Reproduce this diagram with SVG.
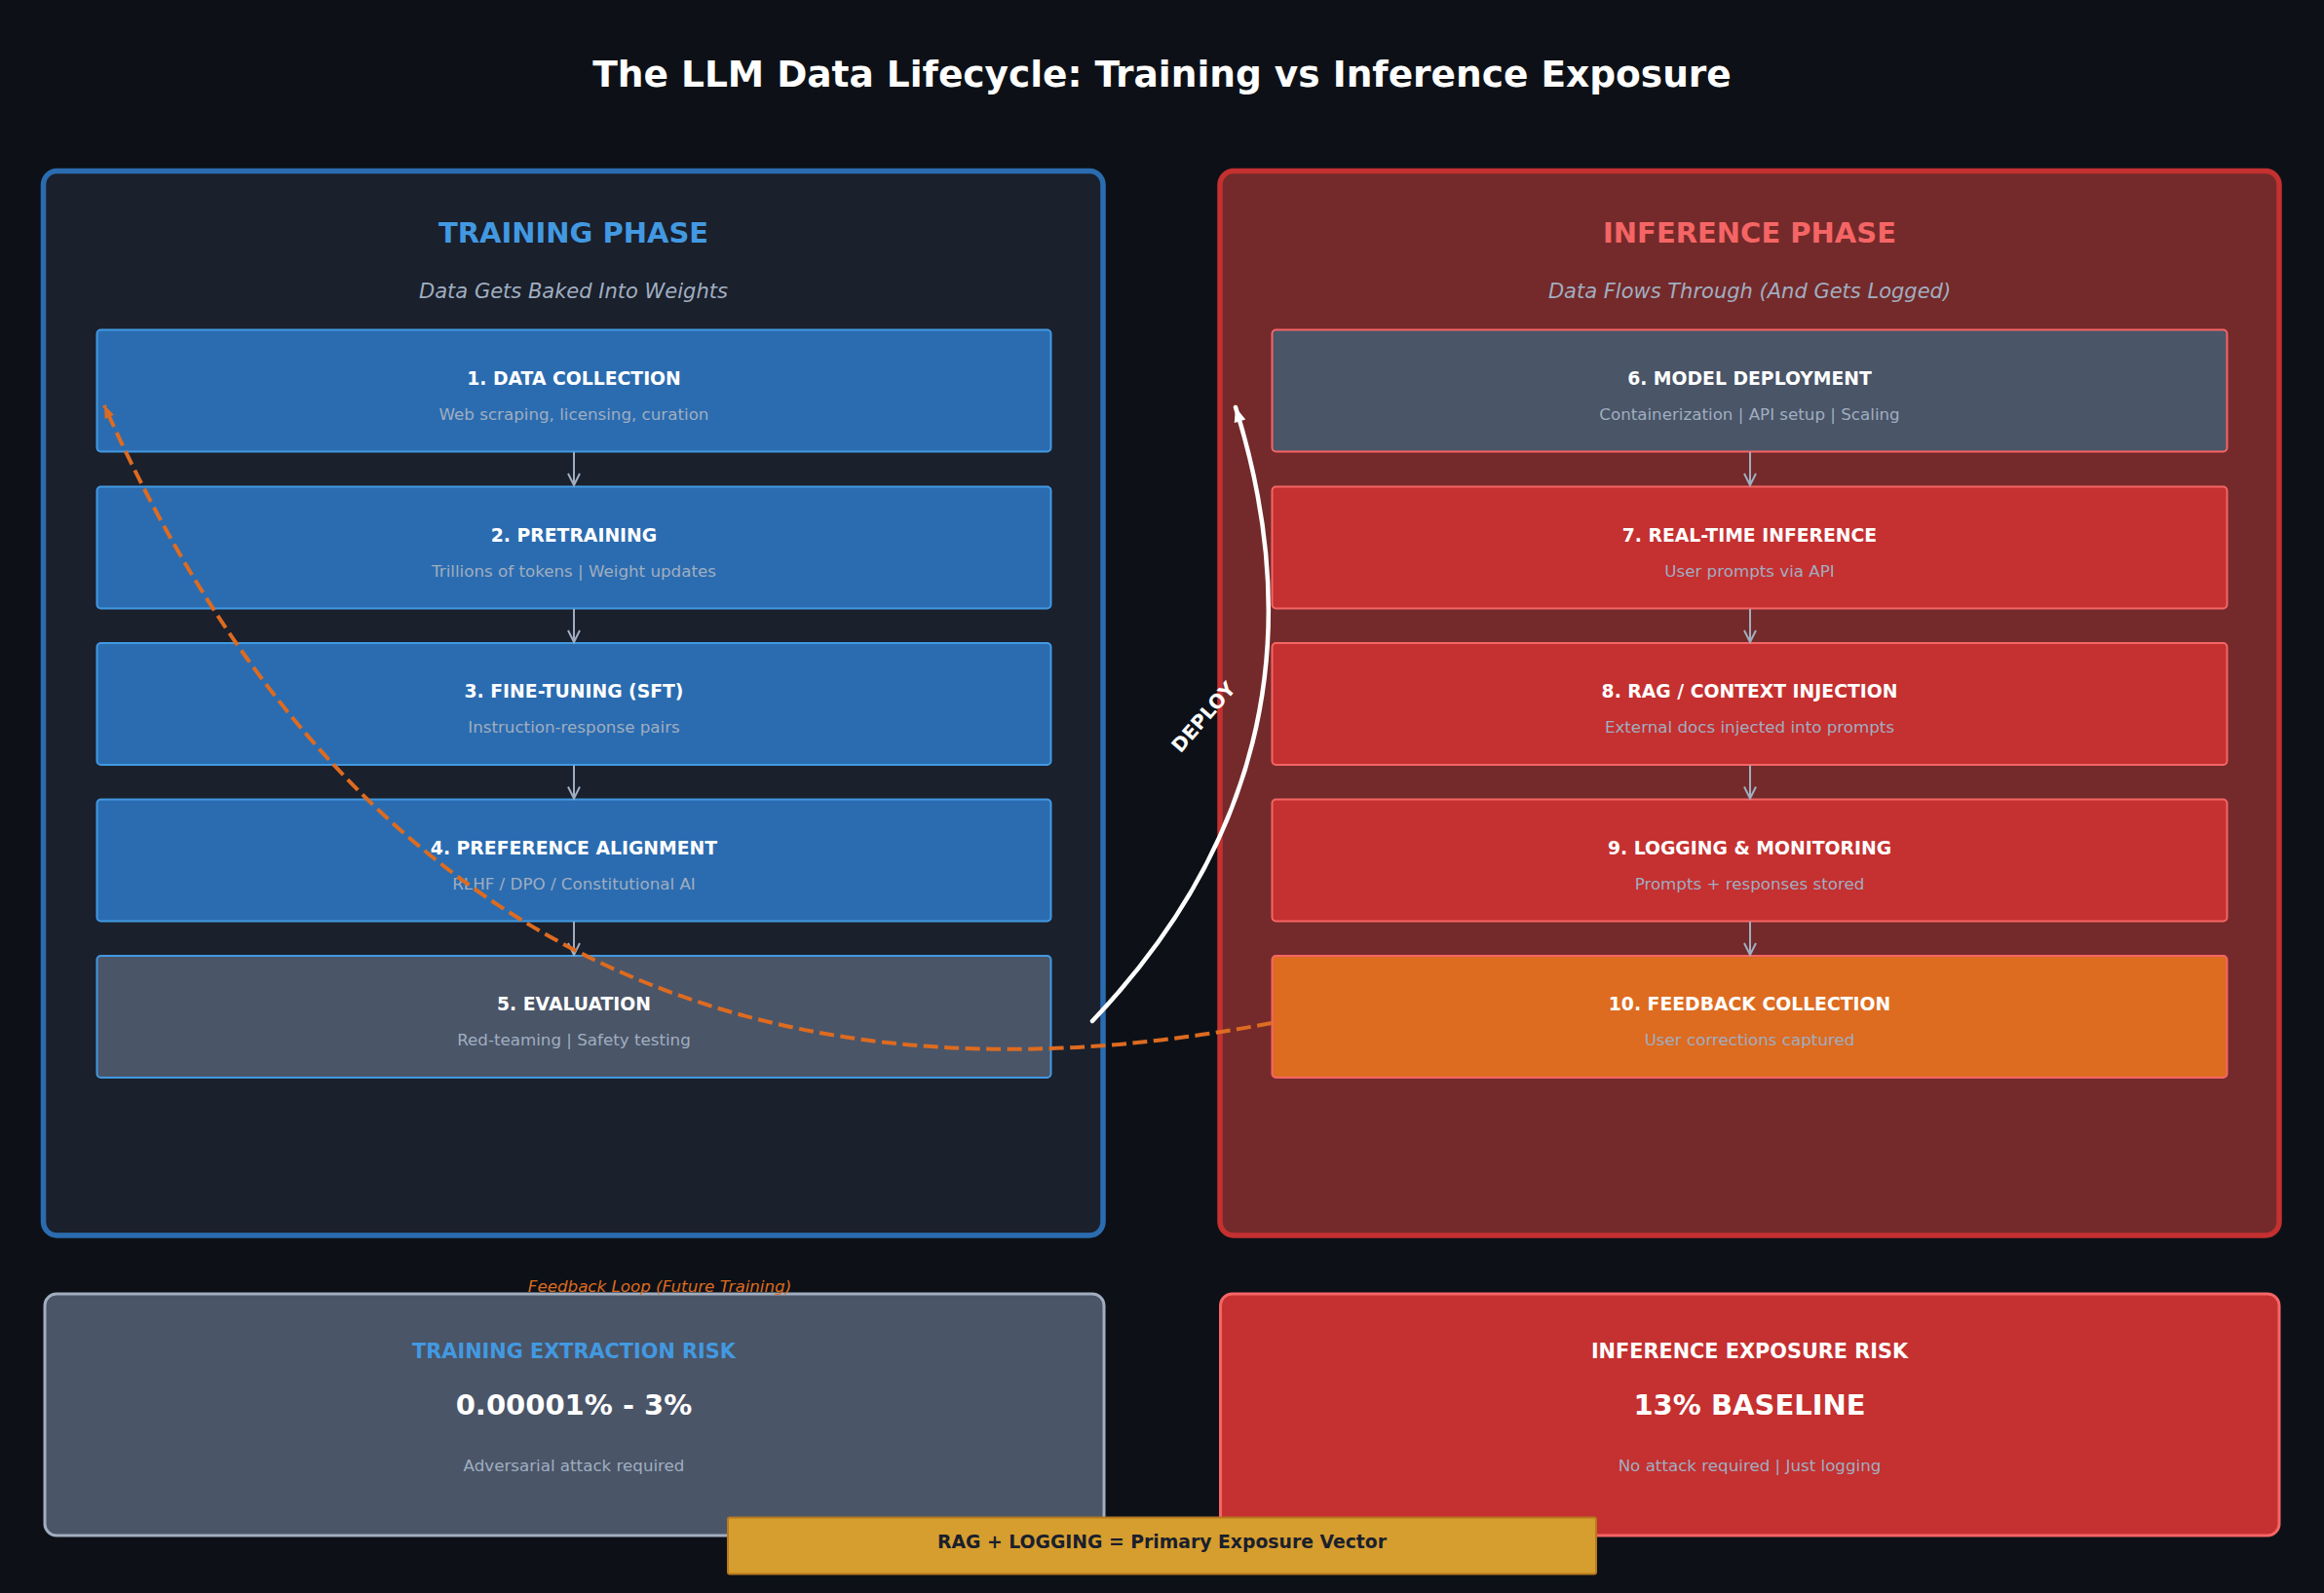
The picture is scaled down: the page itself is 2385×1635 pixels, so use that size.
<svg xmlns="http://www.w3.org/2000/svg" width="2385" height="1635" viewBox="0 0 2385 1635">
<defs>
<style>
text{font-family:"DejaVu Sans","Liberation Sans",sans-serif;text-anchor:middle}
.title{font-size:37.5px;font-weight:bold;fill:#ffffff}
.ptitle{font-size:29px;font-weight:bold}
.psub{font-size:21px;font-style:italic;fill:#a0aec0}
.bt{font-size:18.8px;font-weight:bold;fill:#ffffff}
.bs{font-size:16.7px;fill:#a0aec0}
.blue{fill:#2b6cb0;stroke:#4299e1;stroke-width:2}
.grayL{fill:#4a5568;stroke:#4299e1;stroke-width:2}
.grayR{fill:#4a5568;stroke:#f56565;stroke-width:2}
.red{fill:#c53030;stroke:#f56565;stroke-width:2}
.orange{fill:#dd6b20;stroke:#f56565;stroke-width:2}
.flow{stroke:#a0aec0;stroke-width:2;fill:none}
.rt{font-size:20.8px;font-weight:bold}
.rv{font-size:29px;font-weight:bold;fill:#ffffff}
.rs{font-size:16.7px;fill:#a0aec0}
</style>
<marker id="chev" markerUnits="userSpaceOnUse" markerWidth="16" markerHeight="16" refX="12" refY="7" orient="auto" overflow="visible">
<path d="M0,1 L12,7 L0,13" fill="none" stroke="#a0aec0" stroke-width="2"/>
</marker>
<marker id="headO" markerUnits="userSpaceOnUse" markerWidth="16" markerHeight="12" refX="13" refY="5" orient="auto" overflow="visible">
<path d="M0,0 L13,5 L0,10 z" fill="#dd6b20"/>
</marker>
<marker id="headW" markerUnits="userSpaceOnUse" markerWidth="18" markerHeight="14" refX="15" refY="6" orient="auto" overflow="visible">
<path d="M0,0 L15,6 L0,12 z" fill="#ffffff"/>
</marker>
</defs>
<rect x="0" y="0" width="2385" height="1635" fill="#0d1117"/>
<text class="title" x="1192.5" y="89">The LLM Data Lifecycle: Training vs Inference Exposure</text>

<g id="training-phase">
<rect x="44.5" y="175.5" width="1087.5" height="1092.5" rx="14" fill="#1a202c" stroke="#2b6cb0" stroke-width="5.5"/>
<text class="ptitle" x="588.5" y="249" fill="#4299e1">TRAINING PHASE</text>
<text class="psub" x="588.5" y="306">Data Gets Baked Into Weights</text>
</g>
<g id="inference-phase">
<rect x="1252" y="175.5" width="1087" height="1092.5" rx="14" fill="#742a2a" stroke="#c53030" stroke-width="5.5"/>
<text class="ptitle" x="1795.5" y="249" fill="#f56565">INFERENCE PHASE</text>
<text class="psub" x="1795.5" y="306">Data Flows Through (And Gets Logged)</text>
</g>

<g id="step1"><rect class="blue" x="99.5" y="338.5" width="979" height="125" rx="4"/><text class="bt" x="589" y="395">1. DATA COLLECTION</text><text class="bs" x="589" y="431">Web scraping, licensing, curation</text></g>
<g id="step2"><rect class="blue" x="99.5" y="499.5" width="979" height="125" rx="4"/><text class="bt" x="589" y="555.5">2. PRETRAINING</text><text class="bs" x="589" y="591.5">Trillions of tokens | Weight updates</text></g>
<g id="step3"><rect class="blue" x="99.5" y="660" width="979" height="125" rx="4"/><text class="bt" x="589" y="716">3. FINE-TUNING (SFT)</text><text class="bs" x="589" y="752">Instruction-response pairs</text></g>
<g id="step4"><rect class="blue" x="99.5" y="820.5" width="979" height="125" rx="4"/><text class="bt" x="589" y="876.5">4. PREFERENCE ALIGNMENT</text><text class="bs" x="589" y="912.5">RLHF / DPO / Constitutional AI</text></g>
<g id="step5"><rect class="grayL" x="99.5" y="981" width="979" height="125" rx="4"/><text class="bt" x="589" y="1037">5. EVALUATION</text><text class="bs" x="589" y="1073">Red-teaming | Safety testing</text></g>

<g id="step6"><rect class="grayR" x="1305.5" y="338.5" width="980" height="125" rx="4"/><text class="bt" x="1795.5" y="395">6. MODEL DEPLOYMENT</text><text class="bs" x="1795.5" y="431">Containerization | API setup | Scaling</text></g>
<g id="step7"><rect class="red" x="1305.5" y="499.5" width="980" height="125" rx="4"/><text class="bt" x="1795.5" y="555.5">7. REAL-TIME INFERENCE</text><text class="bs" x="1795.5" y="591.5">User prompts via API</text></g>
<g id="step8"><rect class="red" x="1305.5" y="660" width="980" height="125" rx="4"/><text class="bt" x="1795.5" y="716">8. RAG / CONTEXT INJECTION</text><text class="bs" x="1795.5" y="752">External docs injected into prompts</text></g>
<g id="step9"><rect class="red" x="1305.5" y="820.5" width="980" height="125" rx="4"/><text class="bt" x="1795.5" y="876.5">9. LOGGING &amp; MONITORING</text><text class="bs" x="1795.5" y="912.5">Prompts + responses stored</text></g>
<g id="step10"><rect class="orange" x="1305.5" y="981" width="980" height="125" rx="4"/><text class="bt" x="1795.5" y="1037">10. FEEDBACK COLLECTION</text><text class="bs" x="1795.5" y="1073">User corrections captured</text></g>

<g id="training-risk">
<rect x="46" y="1328" width="1087" height="248" rx="12" fill="#4a5568" stroke="#a0aec0" stroke-width="3"/>
<text class="rt" x="589" y="1394" fill="#4299e1">TRAINING EXTRACTION RISK</text>
<text class="rv" x="589" y="1452">0.00001% - 3%</text>
<text class="rs" x="589" y="1510">Adversarial attack required</text>
</g>
<g id="inference-risk">
<rect x="1252.5" y="1328" width="1086.5" height="248" rx="12" fill="#c53030" stroke="#f56565" stroke-width="3"/>
<text class="rt" x="1795.5" y="1394" fill="#ffffff">INFERENCE EXPOSURE RISK</text>
<text class="rv" x="1795.5" y="1452">13% BASELINE</text>
<text class="rs" x="1795.5" y="1510">No attack required | Just logging</text>
</g>

<g id="connectors">
<path class="flow" marker-end="url(#chev)" d="M589,464 L589,498"/>
<path class="flow" marker-end="url(#chev)" d="M589,625 L589,659"/>
<path class="flow" marker-end="url(#chev)" d="M589,785.5 L589,819.5"/>
<path class="flow" marker-end="url(#chev)" d="M589,946 L589,980"/>
<path class="flow" marker-end="url(#chev)" d="M1796,464 L1796,498"/>
<path class="flow" marker-end="url(#chev)" d="M1796,625 L1796,659"/>
<path class="flow" marker-end="url(#chev)" d="M1796,785.5 L1796,819.5"/>
<path class="flow" marker-end="url(#chev)" d="M1796,946 L1796,980"/>
<path id="feedback-loop" d="M1305,1050 Q460,1210 107,416" fill="none" stroke="#dd6b20" stroke-width="4" stroke-dasharray="15,6.5" marker-end="url(#headO)"/>
<path id="deploy" d="M1121,1048 Q1380,776 1268,418" fill="none" stroke="#ffffff" stroke-width="4.5" stroke-linecap="round" marker-end="url(#headW)"/>
<text x="1235" y="736" transform="rotate(-49 1235 736)" dy="7" style="font-size:20px;font-weight:bold;fill:#ffffff">DEPLOY</text>
<text x="677" y="1326" style="font-size:16.7px;font-style:italic;fill:#dd6b20">Feedback Loop (Future Training)</text>
</g>

<g id="banner">
<rect x="747" y="1557.5" width="891" height="58" rx="2" fill="#d69e2e" stroke="#b7791f" stroke-width="2"/>
<text x="1192.5" y="1588.5" style="font-size:18.8px;font-weight:bold;fill:#1a202c">RAG + LOGGING = Primary Exposure Vector</text>
</g>
</svg>
